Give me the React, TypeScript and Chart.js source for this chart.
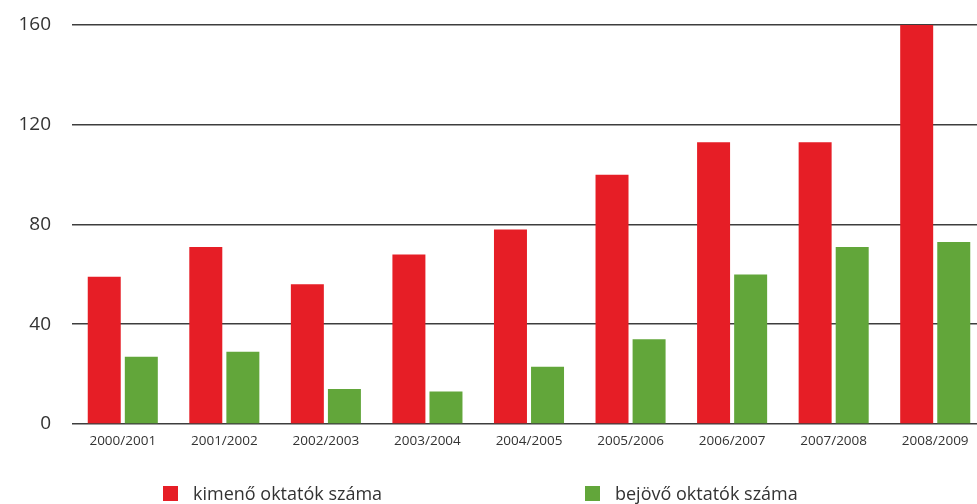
import React, { useEffect, useRef } from "react";
import { Chart, registerables } from "chart.js";

Chart.register(...registerables);

const categories = [
  "2000/2001",
  "2001/2002",
  "2002/2003",
  "2003/2004",
  "2004/2005",
  "2005/2006",
  "2006/2007",
  "2007/2008",
  "2008/2009",
];
const outgoing = [59, 71, 56, 68, 78, 100, 113, 113, 160];
const incoming = [27, 29, 14, 13, 23, 34, 60, 71, 73];
const yTicks = [0, 40, 80, 120, 160];
const seriesLabels = ["kimenő oktatók száma", "bejövő oktatók száma"];
const seriesColors = ["#E61E26", "#62A63A"];

const FONT = "'Open Sans', 'Noto Sans', sans-serif";
const TEXT = "#333333";

export default function App() {
  const ref = useRef<HTMLCanvasElement | null>(null);

  useEffect(() => {
    if (!ref.current) return;
    const chart = new Chart(ref.current, {
      type: "bar",
      data: {
        labels: categories,
        datasets: [
          {
            label: seriesLabels[0],
            data: outgoing,
            backgroundColor: seriesColors[0],
            barPercentage: 0.89,
            categoryPercentage: 0.73,
          },
          {
            label: seriesLabels[1],
            data: incoming,
            backgroundColor: seriesColors[1],
            barPercentage: 0.89,
            categoryPercentage: 0.73,
          },
        ],
      },
      options: {
        responsive: false,
        animation: false,
        devicePixelRatio: 1,
        layout: { padding: { left: 0, right: 4, top: 25, bottom: 50 } },
        plugins: {
          legend: { display: false },
          tooltip: { enabled: false },
        },
        scales: {
          x: {
            grid: { display: false },
            border: { display: false },
            ticks: {
              color: TEXT,
              font: { family: FONT, size: 13.5 },
              padding: 1,
              maxRotation: 0,
              autoSkip: false,
            },
            afterFit: (s: any) => {
              s.height = 30;
              s.paddingLeft = 0;
              s.paddingRight = 0;
            },
          },
          y: {
            min: 0,
            max: 160,
            border: { display: false },
            grid: { color: "#3e3e3e", lineWidth: 1.6, drawTicks: false },
            afterBuildTicks: (s: any) => {
              s.ticks = yTicks.map((v) => ({ value: v }));
            },
            ticks: {
              color: TEXT,
              font: { family: FONT, size: 19 },
              padding: 21,
            },
            afterFit: (s: any) => {
              s.width = 72;
              s.paddingTop = 0;
              s.paddingBottom = 0;
            },
          },
        },
      },
    });
    return () => chart.destroy();
  }, []);

  const legendItem = (i: number, left: number) => (
    <div
      key={i}
      style={{
        position: "absolute",
        left,
        top: 481,
        display: "flex",
        alignItems: "center",
        fontFamily: FONT,
        fontSize: 18,
        color: TEXT,
        whiteSpace: "nowrap",
      }}
    >
      <span
        style={{
          display: "inline-block",
          width: 15,
          height: 15,
          background: seriesColors[i],
          marginRight: 15,
        }}
      />
      {seriesLabels[i]}
    </div>
  );

  return (
    <div
      style={{
        position: "fixed",
        left: 0,
        top: 0,
        width: 977,
        height: 504,
        overflow: "hidden",
        background: "#ffffff",
      }}
    >
      <canvas ref={ref} width={990} height={504} style={{ display: "block" }} />
      {legendItem(0, 163)}
      {legendItem(1, 585)}
    </div>
  );
}
